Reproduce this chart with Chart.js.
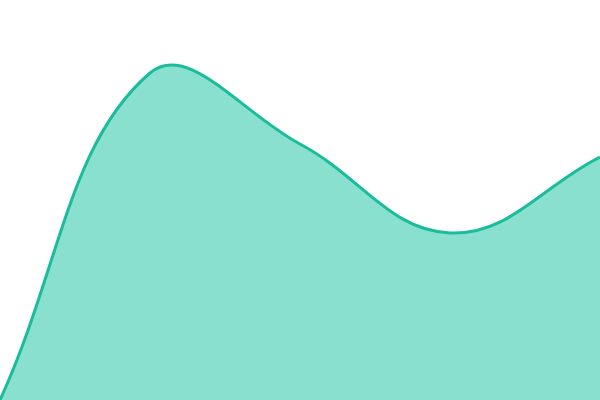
<!DOCTYPE html>
<html>
<head>
<meta charset="utf-8">
<script src="https://cdn.jsdelivr.net/npm/chart.js@4"></script>
<style>
  html, body { margin: 0; padding: 0; background: #fff; }
  #wrap { width: 600px; height: 400px; }
</style>
</head>
<body>
<div id="wrap"><canvas id="areaChart"></canvas></div>
<script>
const labels = ['A', 'B', 'C', 'D', 'E'];
const values = [0, 327, 256, 167, 243];

const ctx = document.getElementById('areaChart').getContext('2d');
const areaChart = new Chart(ctx, {
    type: 'line',
    data: {
        labels: labels,
        datasets: [{
            data: values,
            borderColor: '#1abc9c',
            backgroundColor: '#89e0cf',
            borderWidth: 3,
            fill: true,
            tension: 0.4,
            pointRadius: 0
        }]
    },
    options: {
        responsive: true,
        maintainAspectRatio: false,
        animation: false,
        layout: { padding: 0 },
        plugins: {
            legend: { display: false },
            tooltip: { enabled: false }
        },
        scales: {
            x: { display: false },
            y: { display: false, min: 0, max: 400 }
        }
    }
});
</script>
</body>
</html>
